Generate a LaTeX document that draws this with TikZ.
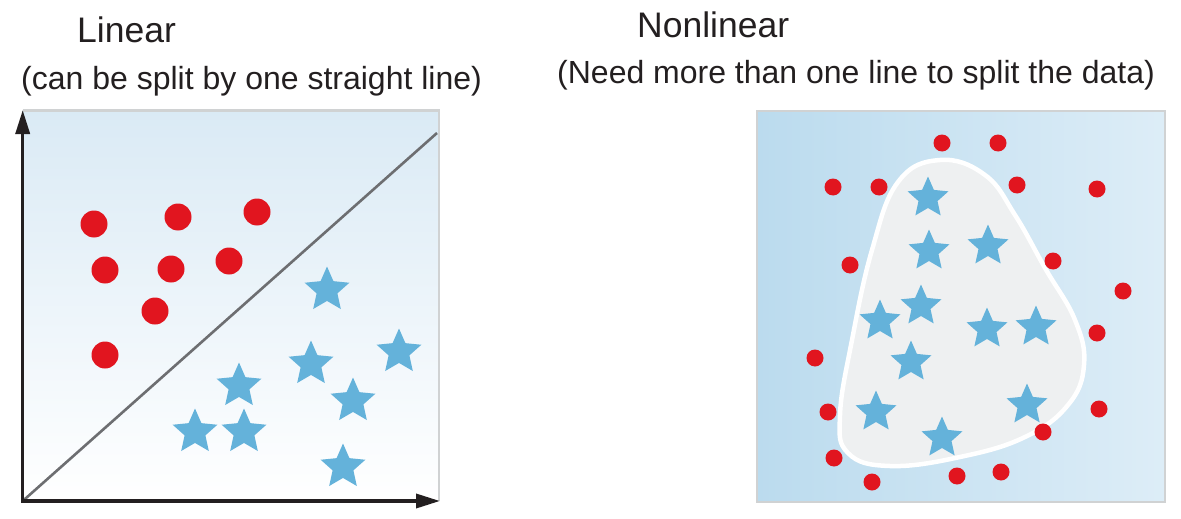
\documentclass[tikz,border=0pt]{standalone}
\usepackage{fontspec}
\setmainfont{Liberation Sans}
\usetikzlibrary{shapes.geometric,arrows.meta}
\definecolor{dotred}{HTML}{E1151F}
\definecolor{starblue}{HTML}{64B2DA}
\definecolor{framegray}{HTML}{D0D2D3}
\definecolor{linegray}{HTML}{6D6E71}
\definecolor{bgtop}{HTML}{DAEAF5}
\definecolor{bgleft}{HTML}{BBDBEE}
\definecolor{bgright}{HTML}{DDEDF7}
\definecolor{blobfill}{HTML}{EEF0F1}
\definecolor{txt}{HTML}{231F20}
\begin{document}
\begin{tikzpicture}[x=1pt,y=-1pt,
  bigdot/.style={circle,fill=dotred,minimum size=27pt,inner sep=0pt,outer sep=0pt},
  smalldot/.style={circle,fill=dotred,minimum size=17pt,inner sep=0pt,outer sep=0pt},
  starbase/.style={star,star points=5,star point ratio=2.15,fill=starblue,inner sep=0pt,outer sep=0pt},
  bigstar/.style={starbase,minimum size=47pt},
  smallstar/.style={starbase,minimum size=43pt},
  titletext/.style={anchor=base west,inner sep=0pt,text=txt,font=\fontsize{35.5}{40}\selectfont},
  subtext/.style={anchor=base west,inner sep=0pt,text=txt,font=\fontsize{32}{36}\selectfont},
  axis/.style={line width=3.5pt,txt,{Triangle[length=24pt,width=14pt]}-{Triangle[length=24pt,width=14pt]}},
  frame/.style={framegray,line width=2.5pt},
  splitline/.style={linegray,line width=2.6pt},
  blob/.style={white,line width=4.5pt,fill=blobfill}]
\useasboundingbox (0,0) rectangle (1181,519);

% ---------- titles ----------
\node[titletext] (t1) at (77,43) {Linear};
\node[subtext] (s1) at (21,89) {(can be split by one straight line)};
\node[titletext] (t2) at (637,38) {Nonlinear};
\node[subtext] (s2) at (557,84) {(Need more than one line to split the data)};

% ---------- left panel ----------
\shade[top color=bgtop,bottom color=white] (22.7,110) rectangle (439,501);
\draw[frame] (22.7,110.5) -- (439,110.5) -- (439,501);
\coordinate (origin) at (22.7,501);
\coordinate (ytip) at (22.7,110);
\coordinate (xtip) at (440,501);
\coordinate (lineend) at (437,133);
\draw[splitline] (origin) -- (lineend);
\draw[axis] (ytip) -- (origin) -- (xtip);

\foreach \x/\y [count=\i] in {94/224,178/217,257/212,105/270,171/269,229/261,155/311,105/355}
  \node[bigdot] (ld\i) at (\x,\y) {};
\foreach \x/\y [count=\i] in {327/290,311/364,399/352,353/401,239/386,195/432,244/432,343/467}
  \node[bigstar] (ls\i) at (\x,\y) {};

% ---------- right panel ----------
\shade[left color=bgleft,right color=bgright] (757,111) rectangle (1165,502);
\draw[frame] (757,111) rectangle (1165,502);
\draw[blob] plot[smooth cycle,tension=0.7] coordinates {
  (940,160) (985,175) (1015,215) (1045,268) (1075,320) (1084,365) (1068,405)
  (1025,437) (960,457) (890,466) (848,453) (840,415) (852,340) (872,250) (898,182)};

\foreach \x/\y [count=\i] in {942/143,998/143,833/187,879/187,1017/185,1097/189,
  850/265,1053/261,1123/291,1097/333,815/358,1099/409,828/412,1043/432,
  834/458,872/482,957/476,1001/472}
  \node[smalldot] (rd\i) at (\x,\y) {};
\foreach \x/\y [count=\i] in {928/198,929/251,988/246,921/306,880/321,987/329,
  1036/327,911/362,876/412,1027/405,942/438}
  \node[smallstar] (rs\i) at (\x,\y) {};
\end{tikzpicture}
\end{document}
